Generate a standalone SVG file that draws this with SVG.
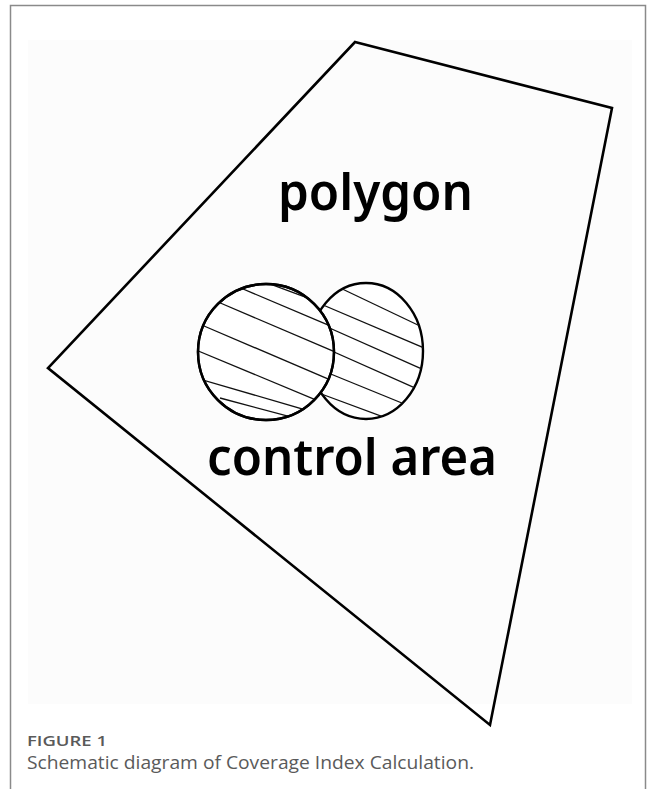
<svg xmlns="http://www.w3.org/2000/svg" width="656" height="789" viewBox="0 0 656 789">
<style>
.edge{fill:none;stroke:#000;stroke-width:2.6;stroke-linejoin:miter}
.circ{fill:#fff;stroke:#000;stroke-width:2.4}
.hatch{stroke:#111;stroke-width:1.3;fill:none}
.lbl{font-family:"Noto Sans","Liberation Sans",sans-serif;font-weight:600;fill:#000}
.cap{font-family:"Open Sans","Noto Sans",sans-serif;fill:#5a5a5a}
</style>
<defs>
<clipPath id="clipL"><circle cx="266" cy="352" r="68"/></clipPath>
<clipPath id="clipR"><ellipse cx="366" cy="351" rx="57" ry="68"/></clipPath>
</defs>
<rect x="0" y="0" width="656" height="789" fill="#fff"/>
<rect x="10.5" y="5.5" width="635" height="800" fill="none" stroke="#8a8a8a" stroke-width="1.5"/>
<rect x="28" y="40" width="604" height="664" fill="#fcfcfc"/>
<g id="polygon-shape">
<polygon class="edge" points="355,42 612,108 490,725 48,368"/>
</g>
<g id="label-polygon">
<text class="lbl" x="278" y="210" font-size="50" textLength="195" lengthAdjust="spacingAndGlyphs">polygon</text>
</g>
<g id="circle-right">
<ellipse class="circ" cx="366" cy="351" rx="57" ry="68"/>
<g clip-path="url(#clipR)" class="hatch">
<line x1="336" y1="286" x2="420" y2="326"/>
<line x1="316" y1="302" x2="424" y2="348"/>
<line x1="316" y1="322" x2="424" y2="370"/>
<line x1="316" y1="344" x2="424" y2="392"/>
<line x1="316" y1="368" x2="424" y2="412"/>
<line x1="316" y1="392" x2="424" y2="432"/>
</g>
</g>
<g id="circle-left">
<circle class="circ" cx="266" cy="352" r="68"/>
<g clip-path="url(#clipL)" class="hatch">
<line x1="262" y1="281" x2="340" y2="310"/>
<line x1="236" y1="286" x2="340" y2="330"/>
<line x1="218" y1="302" x2="340" y2="354"/>
<line x1="204" y1="326" x2="340" y2="384"/>
<line x1="196" y1="350" x2="340" y2="410"/>
<line x1="196" y1="378" x2="340" y2="420"/>
<line x1="220" y1="398" x2="340" y2="430"/>
</g>
<circle cx="266" cy="352" r="68" fill="none" stroke="#000" stroke-width="2.4"/>
</g>
<g id="label-control-area">
<text class="lbl" x="207" y="475" font-size="50" textLength="290" lengthAdjust="spacingAndGlyphs">control area</text>
</g>
<g id="caption">
<text class="cap" x="27" y="746" font-size="15" font-weight="600" fill="#707070" textLength="80" lengthAdjust="spacingAndGlyphs">FIGURE 1</text>
<text class="cap" x="27" y="769" font-size="17.5" textLength="447" lengthAdjust="spacingAndGlyphs">Schematic diagram of Coverage Index Calculation.</text>
</g>
</svg>
